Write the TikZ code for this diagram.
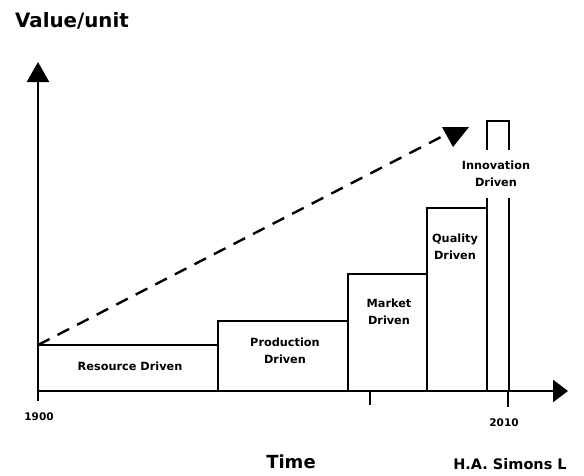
\documentclass[tikz,border=0pt]{standalone}
\usepackage{fontspec}
\setmainfont{DejaVu Sans}
\usetikzlibrary{arrows.meta}
\begin{document}
\begin{tikzpicture}[x=1pt,y=-1pt,
  axis/.style={line width=2.6pt},
  bar/.style={line width=2.3pt},
  lab/.style={font=\bfseries\fontsize{11.3}{17}\selectfont, align=center, inner sep=0pt},
  year/.style={font=\bfseries\fontsize{10.5}{12}\selectfont, inner sep=0pt},
  title/.style={font=\bfseries\fontsize{19.8}{22}\selectfont, inner sep=0pt}]
\useasboundingbox (0,0) rectangle (584,475);

% axes
\coordinate (O) at (38,391);
\coordinate (ybot) at (38,401);
\coordinate (ytop) at (38,62);
\coordinate (xend) at (568,391);
\draw[axis,-{Triangle[length=20pt,width=22pt]}] (ybot) -- (ytop);
\draw[axis,-{Triangle[length=15pt,width=22pt]}] (O) -- (xend);

% ticks
\coordinate (t1) at (370,391);
\coordinate (t1b) at (370,405);
\coordinate (t2) at (508,391);
\coordinate (t2b) at (508,407);
\draw[axis] (t1) -- (t1b);
\draw[axis] (t2) -- (t2b);

% stepped bars
\draw[bar] (38,345) -- (218,345) -- (218,391);
\draw[bar] (218,345) -- (218,321) -- (348,321) -- (348,391);
\draw[bar] (348,321) -- (348,274) -- (427,274) -- (427,391);
\draw[bar] (427,274) -- (427,208) -- (487,208) -- (487,391);
% innovation bar, broken around its label
\draw[bar] (487,198) -- (487,391);
\draw[bar] (509,198) -- (509,391);
\draw[bar] (487,150) -- (487,121) -- (509,121) -- (509,150);

% dashed trend with its head
\coordinate (ds) at (38,345);
\coordinate (de) at (441,137);
\draw[line width=2.4pt, dash pattern=on 13pt off 9pt] (ds) -- (de);
\coordinate (hd) at (453,147);
\fill (hd) -- (442,127) -- (469,127) -- cycle;

% labels
\node[title, anchor=west] (vu) at (15,21) {Value/unit};
\node[title, font=\bfseries\fontsize{18}{20}\selectfont] (time) at (291,462) {Time};
\node[title, font=\bfseries\fontsize{14.5}{16}\selectfont] (hs) at (510,464) {H.A. Simons L};
\node[year] (y1) at (39,417) {1900};
\node[year] (y2) at (504,423) {2010};

\node[lab] (rd) at (130,366) {Resource Driven};
\node[lab] (pd) at (285,351) {Production\\Driven};
\node[lab] (md) at (389,312) {Market\\Driven};
\node[lab] (qd) at (455,247) {Quality\\Driven};
\node[lab] (id) at (496,174) {Innovation\\Driven};
\end{tikzpicture}
\end{document}
